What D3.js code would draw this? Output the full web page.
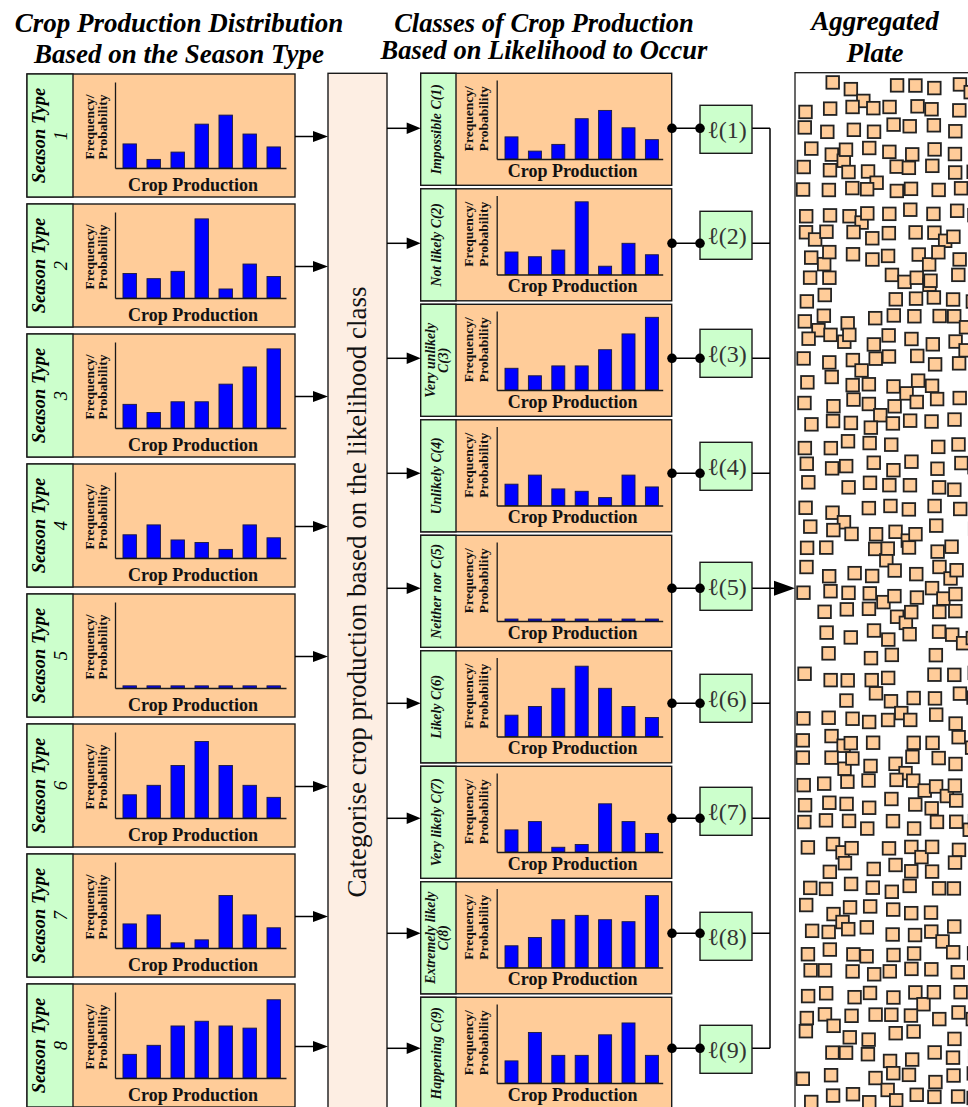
<!DOCTYPE html>
<html><head><meta charset="utf-8">
<script src="https://cdn.jsdelivr.net/npm/d3@7"></script>
<style>html,body{margin:0;padding:0;background:#fff;overflow:hidden}</style>
</head><body><svg id="c" width="968" height="1107"></svg>
<script>
// ---------------- DATA ----------------
const bins = ["b1","b2","b3","b4","b5","b6","b7"];
const season1 = [2.8, 1.0, 1.85, 5.1, 6.15, 3.95, 2.45];
const season2 = [2.85, 2.25, 3.1, 9.2, 1.05, 3.95, 2.5];
const season3 = [2.75, 1.8, 3.05, 3.05, 5.1, 7.1, 9.2];
const season4 = [2.7, 3.85, 2.1, 1.8, 1.0, 3.85, 2.35];
const season5 = [0.25, 0.25, 0.25, 0.25, 0.25, 0.25, 0.25];
const season6 = [2.7, 3.8, 6.1, 8.9, 6.1, 3.8, 2.4];
const season7 = [2.8, 3.85, 0.6, 0.95, 6.1, 3.85, 2.35];
const season8 = [2.75, 3.8, 6.05, 6.6, 6.05, 5.8, 9.1];
const class9  = [2.8, 6.4, 3.5, 3.5, 6.1, 7.6, 3.5];
const seasonSeries = [season1, season2, season3, season4, season5, season6, season7, season8];
const classSeries = [season1, season2, season3, season4, season5, season6, season7, season8, class9];
const seasonNumbers = ["1","2","3","4","5","6","7","8"];
const classNames = [["Impossible C(1)"],["Not likely C(2)"],["Very unlikely","C(3)"],["Unlikely C(4)"],
  ["Neither nor C(5)"],["Likely C(6)"],["Very likely C(7)"],["Extremely likely","C(8)"],["Happening C(9)"]];
const lLabels = ["ℓ(1)","ℓ(2)","ℓ(3)","ℓ(4)","ℓ(5)","ℓ(6)","ℓ(7)","ℓ(8)","ℓ(9)"];
const yMax = 10;
const titles = {
  left: ["Crop Production Distribution","Based on the Season Type"],
  mid: ["Classes of Crop Production","Based on Likelihood to Occur"],
  right: ["Aggregated","Plate"]
};
const middleText = "Categorise crop production based on the likelihood class";
const axisXLabel = "Crop Production";
const axisYLabel = ["Frequency/","Probability"];

// ---------------- STYLE / LAYOUT ----------------
const SERIF = "'Liberation Serif','Times New Roman',serif";
const ORANGE = "#ffcc99", GREEN = "#ccffcc", INK = "#1a1a1a", BLUE = "#0000ff";
const svg = d3.select("#c");

const seasonCfg = {w:268, h:123, lw:46, ax:88, at:8, ab:94, ar:259, bx0:90.7, step:24, pi:0.44,
  fx1:66.5, fx2:80, fy:53, cpx:166, cpy:116.5, fsz:13.5};
const classCfg = {w:251, h:112, lw:35.3, ax:76, at:6.7, ab:85.7, ar:242, bx0:79.1, step:23.4, pi:0.444,
  fx1:52.3, fx2:67.3, fy:45.5, cpx:152, cpy:103.4, fsz:13.5};

function panel(g, cfg, values) {
  g.append("rect").attr("width", cfg.w).attr("height", cfg.h)
    .attr("fill", ORANGE).attr("stroke", INK).attr("stroke-width", 1.4);
  g.append("rect").attr("width", cfg.lw).attr("height", cfg.h)
    .attr("fill", GREEN).attr("stroke", INK).attr("stroke-width", 1.4);
  const x = d3.scaleBand().domain(bins).range([cfg.bx0, cfg.bx0 + bins.length * cfg.step])
    .paddingInner(cfg.pi).paddingOuter(cfg.pi / 2);
  const y = d3.scaleLinear().domain([0, yMax]).range([cfg.ab, cfg.at]);
  const xa = d3.scaleLinear().domain([0, 1]).range([cfg.ax, cfg.ar]);
  g.selectAll("rect.bar").data(values).join("rect").attr("class","bar")
    .attr("x", (d,i) => x(bins[i])).attr("y", d => y(d))
    .attr("width", x.bandwidth()).attr("height", d => y(0) - y(d))
    .attr("fill", BLUE).attr("stroke", "#1a1a40").attr("stroke-width", 0.9);
  const ya = g.append("g").attr("transform", `translate(${cfg.ax},0)`)
    .call(d3.axisLeft(y).tickValues([]).tickSizeOuter(0));
  const xg = g.append("g").attr("transform", `translate(0,${cfg.ab})`)
    .call(d3.axisBottom(xa).tickValues([]).tickSizeOuter(0));
  [ya, xg].forEach(a => a.select(".domain").attr("stroke", INK).attr("stroke-width", 1.3));
  const fr = g.append("g").attr("transform", `translate(0,${cfg.fy}) rotate(-90)`);
  fr.append("text").attr("x",0).attr("y",cfg.fx1).text(axisYLabel[0]);
  fr.append("text").attr("x",0).attr("y",cfg.fx2).text(axisYLabel[1]);
  fr.selectAll("text").attr("text-anchor","middle").attr("font-family",SERIF)
    .attr("font-weight","bold").attr("font-size",cfg.fsz).attr("fill","#111");
  g.append("text").attr("x", cfg.cpx).attr("y", cfg.cpy).attr("text-anchor","middle")
    .attr("font-family",SERIF).attr("font-weight","bold").attr("font-size",18).attr("fill","#111")
    .text(axisXLabel);
}

function arrow(x1, y, x2, hl, hw) {
  svg.append("line").attr("x1",x1).attr("x2",x2-hl+1).attr("y1",y).attr("y2",y)
    .attr("stroke","#000").attr("stroke-width",1.5);
  svg.append("path").attr("d", `M${x2},${y} L${x2-hl},${y-hw} L${x2-hl},${y+hw} Z`).attr("fill","#000");
}

// ---------------- TITLES ----------------
function title(lines, cx, ys, fs) {
  lines.forEach((t,i) => svg.append("text").attr("x",cx).attr("y",ys[i]).attr("text-anchor","middle")
    .attr("font-family",SERIF).attr("font-style","italic").attr("font-weight","bold")
    .attr("font-size",fs).attr("fill","#000").text(t));
}
title(titles.left, 179, [31.7, 62.5], 27);
title(titles.mid, 544, [31.5, 58.5], 26.5);
title(titles.right, 875, [29.5, 61.7], 27);

// ---------------- MIDDLE BOX ----------------
svg.append("rect").attr("x",328).attr("y",73.3).attr("width",59).attr("height",1100)
  .attr("fill","#fdeee3").attr("stroke",INK).attr("stroke-width",1.4);
svg.append("text").attr("transform","translate(366,592) rotate(-90)").attr("text-anchor","middle")
  .attr("font-family",SERIF).attr("font-size",27).attr("fill","#111").text(middleText);

// ---------------- SEASON PANELS ----------------
seasonSeries.forEach((vals, i) => {
  const top = 74 + 130 * i;
  const g = svg.append("g").attr("transform", `translate(27,${top})`);
  panel(g, seasonCfg, vals);
  const lt = g.append("g").attr("transform", `translate(0,${seasonCfg.h/2}) rotate(-90)`);
  lt.append("text").attr("y",17.5).attr("text-anchor","middle").attr("font-family",SERIF)
    .attr("font-style","italic").attr("font-weight","bold").attr("font-size",18.5).text("Season Type");
  lt.append("text").attr("y",40).attr("text-anchor","middle").attr("font-family",SERIF)
    .attr("font-style","italic").attr("font-size",18.5).text(seasonNumbers[i]);
  arrow(295, top + seasonCfg.h/2 + 1, 328, 15, 5.5);
});

// ---------------- CLASS PANELS + CONNECTORS ----------------
const lShift = [1, -8, -5, -7, -2, -5, -7, 3, 1];
const busX = 770;
const connYs = [];
classSeries.forEach((vals, i) => {
  const top = 73.3 + 115.5 * i;
  const g = svg.append("g").attr("transform", `translate(420.7,${top})`);
  panel(g, classCfg, vals);
  const names = classNames[i];
  const lt = g.append("g").attr("transform", `translate(0,${classCfg.h/2}) rotate(-90)`);
  const ys = names.length === 1 ? [20.8] : [14.3, 27.8];
  names.forEach((t,k) => lt.append("text").attr("y", ys[k]).attr("text-anchor","middle")
    .attr("font-family",SERIF).attr("font-style","italic").attr("font-weight","bold")
    .attr("font-size",13.8).attr("fill","#111").text(t));
  const cy = top + classCfg.h/2 - 1 - 0.5 * i;
  connYs.push(cy);
  arrow(387, cy, 420.7, 14, 5.8);
  svg.append("line").attr("x1",672).attr("x2",busX).attr("y1",cy).attr("y2",cy)
    .attr("stroke","#000").attr("stroke-width",1.5);
  const lc = cy + lShift[i];
  svg.append("rect").attr("x",700).attr("y",lc-24).attr("width",52).attr("height",48)
    .attr("fill",GREEN).attr("stroke",INK).attr("stroke-width",1.4);
  svg.append("text").attr("x",727).attr("y",lc+8.5).attr("text-anchor","middle")
    .attr("font-family",SERIF).attr("font-size",24).attr("fill","#333").text(lLabels[i]);
  [672, 700].forEach(cx => svg.append("circle").attr("cx",cx).attr("cy",cy).attr("r",4.8).attr("fill","#000"));
});
svg.append("line").attr("x1",busX).attr("x2",busX).attr("y1",connYs[0]).attr("y2",connYs[8])
  .attr("stroke","#000").attr("stroke-width",1.5);

// ---------------- PLATE ----------------
svg.append("rect").attr("x",795).attr("y",72.7).attr("width",200).attr("height",1100)
  .attr("fill","#fff").attr("stroke",INK).attr("stroke-width",1.3);
arrow(busX, connYs[4], 795, 21, 7.5);

// decorative texture of plate squares (deterministic jittered grid)
function lcg(seed){ let s = seed >>> 0; return () => (s = (Math.imul(s,1664525) + 1013904223) >>> 0) / 4294967296; }
const rnd = lcg(12345);
const sq = [];
for (let r = 0; r < 49; r++) {
  for (let c = 0; c < 9; c++) {
    if (rnd() < 0.08) { rnd(); rnd(); continue; }
    let x = 801 + c * 21.3 + (rnd() - 0.5) * 10;
    let y = 80 + r * 21.1 + (rnd() - 0.5) * 10;
    x = Math.max(796.5, x);
    sq.push([x, y]);
    if (rnd() < 0.08) sq.push([Math.max(796.5, x + 8 + rnd()*6), y + 6 + rnd()*6]);
  }
}
svg.append("g").selectAll("rect").data(sq).join("rect")
  .attr("x", d => d[0]).attr("y", d => d[1]).attr("width",12.6).attr("height",12.6)
  .attr("fill",ORANGE).attr("stroke","#222").attr("stroke-width",1.8);
</script></body></html>
